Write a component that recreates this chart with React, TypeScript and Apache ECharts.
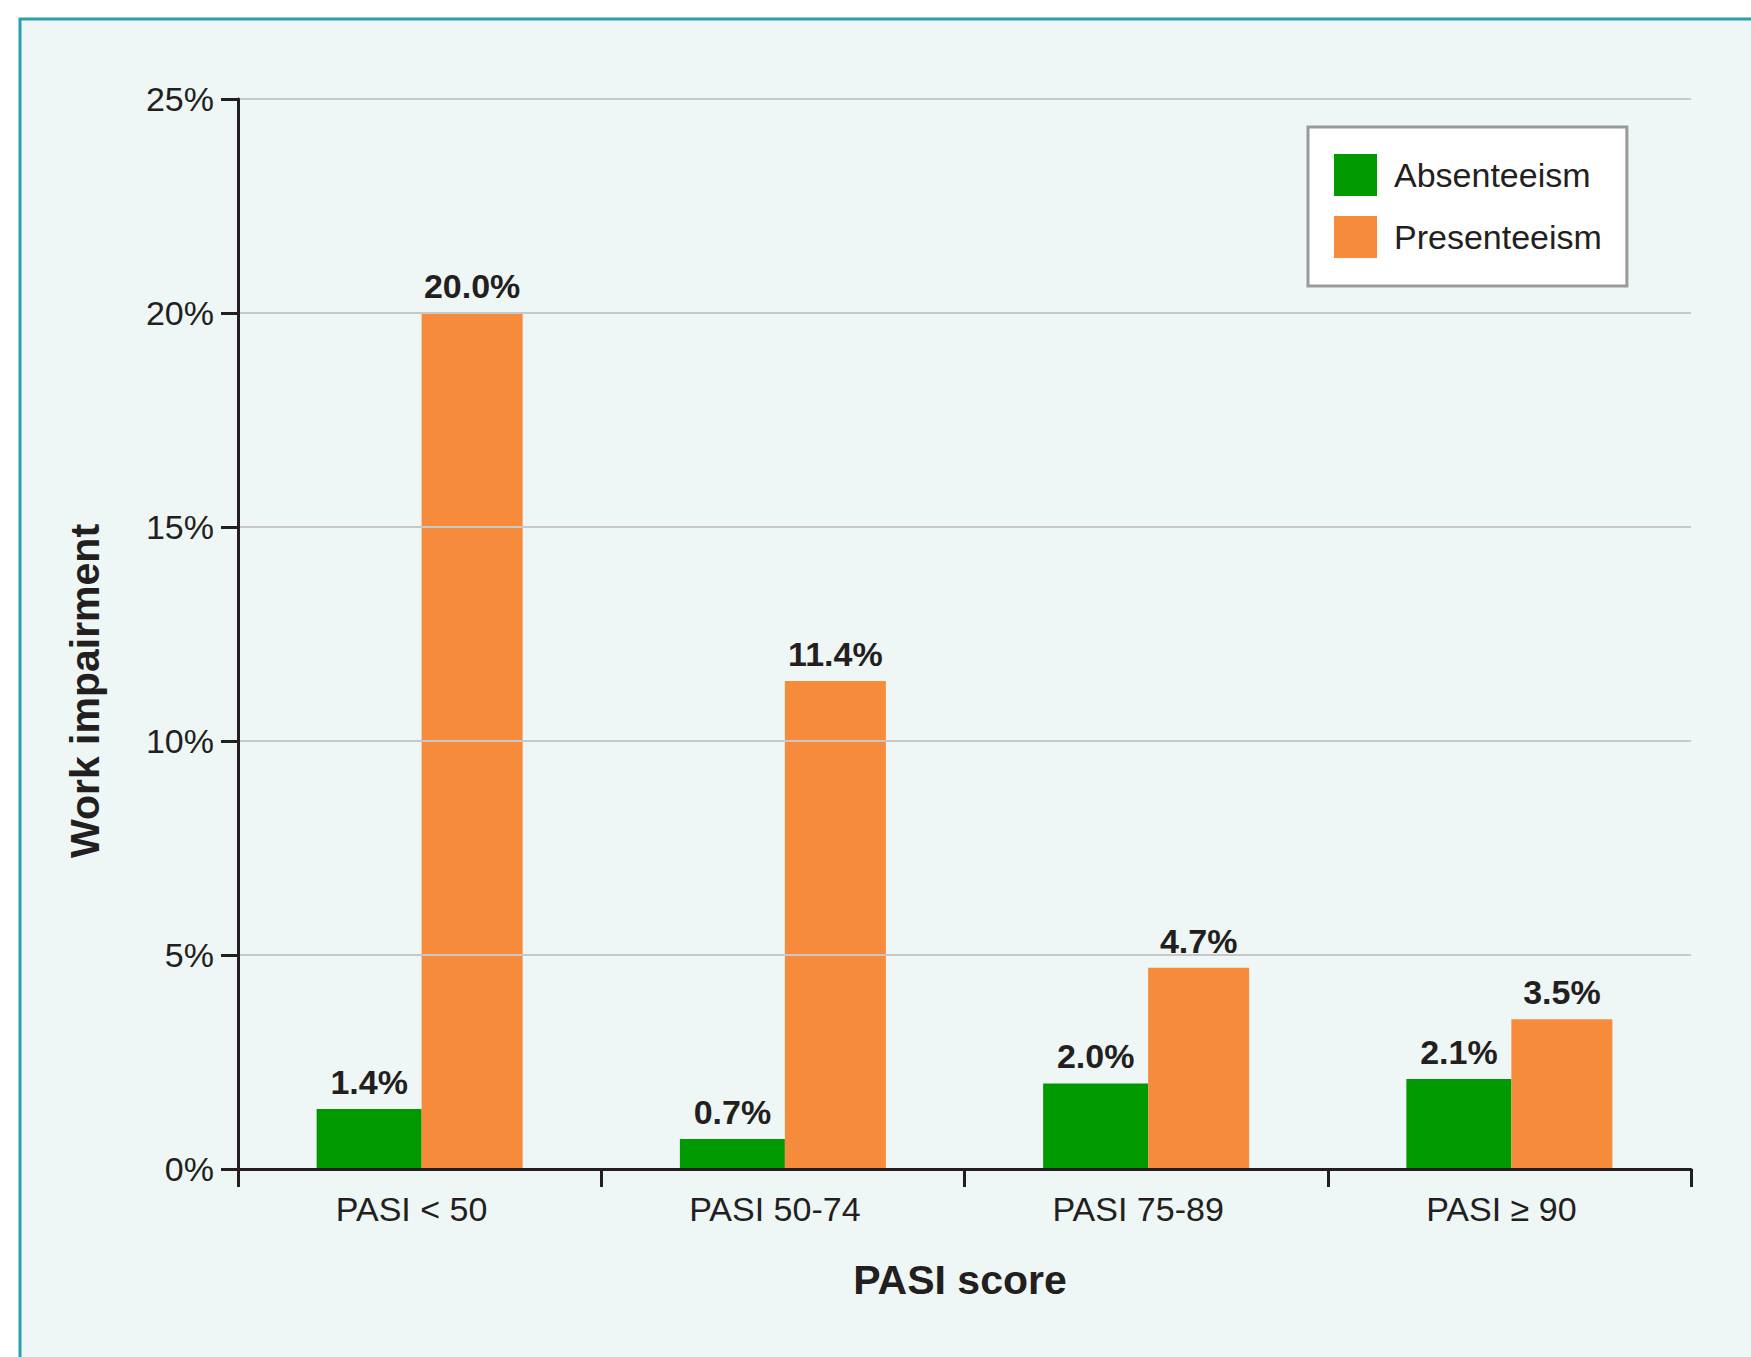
import React, { useEffect, useRef } from "react";
import * as echarts from "echarts";

const categories = ["PASI < 50", "PASI 50-74", "PASI 75-89", "PASI \u2265 90"];
const absenteeism = [1.4, 0.7, 2.0, 2.1];
const presenteeism = [20.0, 11.4, 4.7, 3.5];
const yTicks = { min: 0, max: 25, interval: 5 };
const seriesNames = ["Absenteeism", "Presenteeism"];
const xAxisTitle = "PASI score";
const yAxisTitle = "Work impairment";

const FONT = "'Liberation Sans', Arial, Helvetica, sans-serif";
const INK = "#231f20";

export default function App() {
  const ref = useRef<HTMLDivElement>(null);
  useEffect(() => {
    if (!ref.current) return;
    const chart = echarts.init(ref.current, undefined, { renderer: "svg" });
    const labelCfg = {
      show: true,
      position: "top",
      distance: 10,
      fontFamily: FONT,
      fontSize: 34,
      fontWeight: "bold",
      color: INK,
      formatter: (p: any) => Number(p.value).toFixed(1) + "%",
    };
    chart.setOption({
      animation: false,
      backgroundColor: "#ffffff",
      textStyle: { fontFamily: FONT },
      graphic: [
        {
          type: "rect",
          z: -10,
          silent: true,
          shape: { x: 20, y: 19, width: 1760, height: 1360 },
          style: { fill: "#eef7f5", stroke: "#2a9fae", lineWidth: 3 },
        },
        {
          type: "text",
          x: 960,
          y: 1280,
          style: {
            text: xAxisTitle,
            fontFamily: FONT,
            fontSize: 41,
            fontWeight: "bold",
            fill: INK,
            align: "center",
            verticalAlign: "middle",
          },
        },
        {
          type: "text",
          x: 85,
          y: 691,
          rotation: Math.PI / 2,
          style: {
            text: yAxisTitle,
            fontFamily: FONT,
            fontSize: 41,
            fontWeight: "bold",
            fill: INK,
            align: "center",
            verticalAlign: "middle",
          },
        },
      ],
      legend: {
        orient: "vertical",
        left: 1308,
        top: 127,
        padding: [27, 25, 28, 26],
        itemWidth: 43,
        itemHeight: 42,
        itemGap: 20,
        icon: "rect",
        backgroundColor: "#ffffff",
        borderColor: "#9a9a9a",
        borderWidth: 3,
        textStyle: {
          fontFamily: FONT,
          fontSize: 34,
          color: INK,
          padding: [0, 0, 0, 12],
        },
        data: seriesNames,
      },
      grid: { left: 238, right: 60, top: 99, bottom: 188, containLabel: false },
      xAxis: {
        type: "category",
        data: categories,
        axisLine: { show: true, lineStyle: { color: INK, width: 3 } },
        axisTick: { show: true, length: 18, lineStyle: { color: INK, width: 3 } },
        axisLabel: {
          fontFamily: FONT,
          fontSize: 34,
          color: INK,
          margin: 23,
          padding: [0, 16, 0, 0],
        },
        splitLine: { show: false },
        z: 5,
      },
      yAxis: {
        type: "value",
        min: yTicks.min,
        max: yTicks.max,
        interval: yTicks.interval,
        axisLine: { show: true, lineStyle: { color: INK, width: 3 } },
        axisTick: { show: true, length: 17, lineStyle: { color: INK, width: 3 } },
        axisLabel: {
          fontFamily: FONT,
          fontSize: 34,
          color: INK,
          margin: 24,
          padding: [9, 0, 0, 0],
          formatter: "{value}%",
        },
        splitLine: { show: true, lineStyle: { color: "#c8c8c8", width: 2 } },
        z: 5,
      },
      series: [
        {
          name: seriesNames[0],
          type: "bar",
          data: absenteeism,
          barWidth: 105,
          barGap: "0%",
          itemStyle: { color: "#009900" },
          label: labelCfg,
        },
        {
          name: seriesNames[1],
          type: "bar",
          data: presenteeism,
          barWidth: 101,
          barGap: "0%",
          itemStyle: { color: "#f78b3c" },
          label: labelCfg,
        },
      ],
    });
    return () => chart.dispose();
  }, []);
  return (
    <div
      ref={ref}
      style={{ position: "fixed", left: 0, top: 0, width: 1751, height: 1357 }}
    />
  );
}
